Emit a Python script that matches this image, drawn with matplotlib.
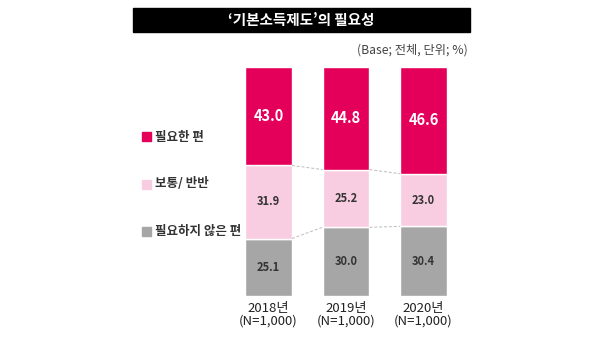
import matplotlib
matplotlib.use("Agg")
import matplotlib.pyplot as plt
from matplotlib.patches import Rectangle
import numpy as np

plt.rcParams["font.family"] = ["Noto Sans CJK KR", "DejaVu Sans"]

years = ["2018년\n(N=1,000)", "2019년\n(N=1,000)", "2020년\n(N=1,000)"]
not_needed = [25.1, 30.0, 30.4]
neutral = [31.9, 25.2, 23.0]
needed = [43.0, 44.8, 46.6]
legend_labels = ["필요한 편", "보통/ 반반", "필요하지 않은 편"]

RED = "#E4005A"
PINK = "#F9CDE1"
GRAY = "#A6A6A6"

W, H = 600, 357
fig = plt.figure(figsize=(6.0, 3.57), dpi=100)


def fx(px):
    return px / W


def fy(py):
    return 1 - py / H


# title box
fig.patches.append(Rectangle((fx(133), fy(32)), fx(470) - fx(133), fy(8) - fy(32),
                             transform=fig.transFigure, color="black", zorder=0))
fig.text(fx(301), fy(20), "‘기본소득제도’의 필요성", color="white", fontsize=10.5,
         fontweight="bold", ha="center", va="center")
fig.text(fx(468), fy(50), "(Base; 전체, 단위; %)", color="#444444", fontsize=8.8,
         ha="right", va="center")

ax = fig.add_axes([fx(130), fy(296), fx(470) - fx(130), fy(67) - fy(296)])
x = np.arange(len(years))
width = 0.606
b1 = np.array(not_needed)
b2 = b1 + np.array(neutral)

ax.bar(x, not_needed, width, color=GRAY, edgecolor="white", linewidth=1.0)
ax.bar(x, neutral, width, bottom=b1, color=PINK, edgecolor="white", linewidth=1.0)
ax.bar(x, needed, width, bottom=b2, color=RED, edgecolor="white", linewidth=1.0)

# dashed connectors between bars
for level in (np.zeros(len(x)), b1, b2):
    for i in range(len(x) - 1):
        ax.plot([x[i] + width / 2, x[i + 1] - width / 2], [level[i], level[i + 1]],
                ls=(0, (3, 2)), color="#BBBBBB", lw=0.7)

for i in range(len(x)):
    ax.text(x[i], b1[i] / 2, f"{not_needed[i]:.1f}", ha="center", va="center",
            fontsize=8, fontweight="bold", color="#333333")
    ax.text(x[i], b1[i] + neutral[i] / 2, f"{neutral[i]:.1f}", ha="center", va="center",
            fontsize=8, fontweight="bold", color="#333333")
    ax.text(x[i], b2[i] + needed[i] / 2, f"{needed[i]:.1f}", ha="center", va="center",
            fontsize=10.5, fontweight="bold", color="white")

ax.set_xlim(-1.787, 2.600)
ax.set_ylim(0, 100)
ax.set_xticks(x)
ax.set_xticklabels(years, fontsize=9.5, color="#222222", linespacing=1.0)
ax.tick_params(axis="x", length=0, pad=4)
ax.set_yticks([])
for s in ax.spines.values():
    s.set_visible(False)
ax.patch.set_alpha(0)

# legend on the left
legend_y = [137, 184, 231]
for label, col, py in zip(legend_labels, [RED, PINK, GRAY], legend_y):
    fig.patches.append(Rectangle((fx(142), fy(py + 4.5)), fx(9), fy(0) - fy(9),
                                 transform=fig.transFigure, color=col))
    fig.text(fx(155), fy(py), label, fontsize=9, fontweight="bold", color="#333333",
             ha="left", va="center")

fig.savefig("out.png", dpi=100)
